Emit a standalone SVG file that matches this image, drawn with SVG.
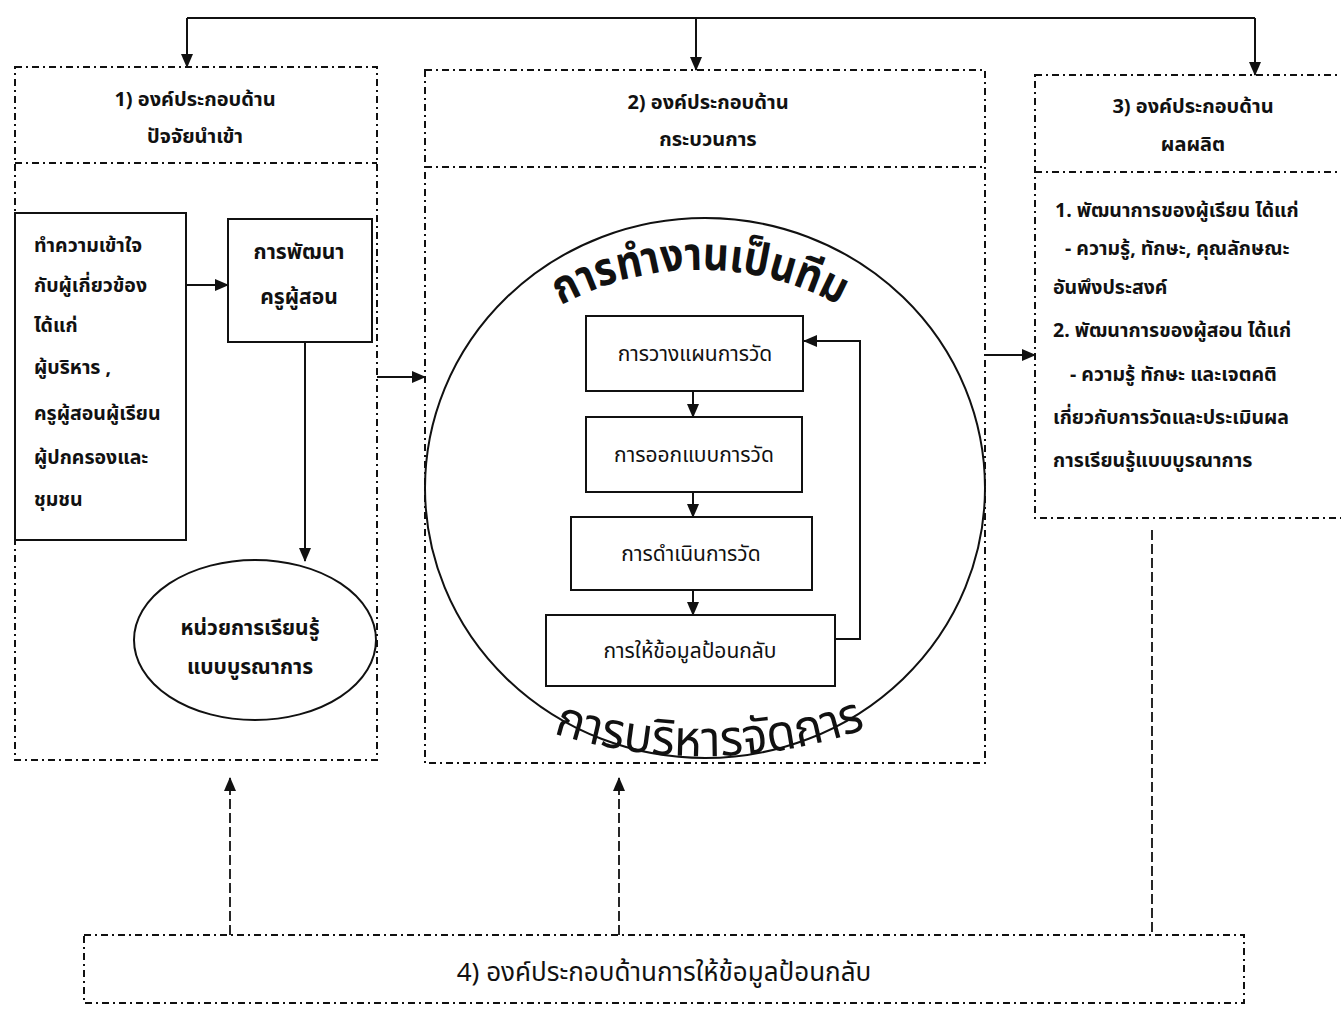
<svg xmlns="http://www.w3.org/2000/svg" width="1341" height="1009" viewBox="0 0 1341 1009">
<style>
.dd{fill:none;stroke:#111;stroke-width:2;stroke-dasharray:7 4 2 4}
.dl{fill:none;stroke:#111;stroke-width:1.8;stroke-dasharray:10 4}
.sl{fill:none;stroke:#111;stroke-width:2}
.bx{fill:#fff;stroke:#111;stroke-width:2}
.t{font-family:"Noto Sans Thai","Noto Sans","DejaVu Sans",sans-serif;fill:#111}
.h{font-size:20px;font-weight:bold}
.b{font-size:19.5px;font-weight:bold}
.e{font-size:21px;font-weight:bold}
.p{font-size:21px}
.big{font-size:46px;font-weight:bold}
</style>
<defs>
<marker id="ah" markerWidth="14" markerHeight="12" refX="13" refY="6" orient="auto" markerUnits="userSpaceOnUse">
<path d="M0,0 L14,6 L0,12 Z" fill="#111"/>
</marker>
<path id="arcTop" d="M 540 318 A 290 290 0 0 1 860 318"/>
<path id="arcBot" d="M 540 729 A 500 500 0 0 0 890 720"/>
</defs>
<rect width="1341" height="1009" fill="#fff"/>

<g id="box1">
<rect class="dd" x="15" y="67" width="362" height="693"/>
<line class="dd" x1="15" y1="163" x2="377" y2="163"/>
<text class="t h" x="195" y="106" text-anchor="middle">1) องค์ประกอบด้าน</text>
<text class="t h" x="195" y="143" text-anchor="middle">ปัจจัยนำเข้า</text>
</g>
<g id="understand">
<rect class="bx" x="15" y="213" width="171" height="327"/>
<text class="t b" x="34" y="252">ทำความเข้าใจ</text>
<text class="t b" x="34" y="292">กับผู้เกี่ยวข้อง</text>
<text class="t b" x="34" y="332">ได้แก่</text>
<text class="t b" x="34" y="374">ผู้บริหาร ,</text>
<text class="t b" x="34" y="420">ครูผู้สอนผู้เรียน</text>
<text class="t b" x="34" y="464">ผู้ปกครองและ</text>
<text class="t b" x="34" y="506">ชุมชน</text>
</g>
<g id="teacherdev">
<rect class="bx" x="228" y="219" width="144" height="123"/>
<text class="t e" x="299" y="259" text-anchor="middle">การพัฒนา</text>
<text class="t e" x="299" y="304" text-anchor="middle">ครูผู้สอน</text>
</g>
<g id="unit">
<ellipse class="bx" cx="255" cy="640" rx="121" ry="80"/>
<text class="t e" x="250" y="635" text-anchor="middle">หน่วยการเรียนรู้</text>
<text class="t e" x="250" y="674" text-anchor="middle">แบบบูรณาการ</text>
</g>

<g id="box2">
<rect class="dd" x="425" y="70" width="560" height="693"/>
<line class="dd" x1="425" y1="167" x2="985" y2="167"/>
<text class="t h" x="708" y="109" text-anchor="middle">2) องค์ประกอบด้าน</text>
<text class="t h" x="708" y="146" text-anchor="middle">กระบวนการ</text>
</g>
<g id="circle">
<ellipse fill="none" stroke="#111" stroke-width="2" cx="705" cy="488" rx="280" ry="270"/>
<text class="t big"><textPath href="#arcTop" startOffset="50%" text-anchor="middle" textLength="290" lengthAdjust="spacingAndGlyphs">การทำงานเป็นทีม</textPath></text>
<text class="t" font-size="50"><textPath href="#arcBot" startOffset="14" textLength="318" lengthAdjust="spacingAndGlyphs">การบริหารจัดการ</textPath></text>
</g>
<g id="plan">
<rect class="bx" x="586" y="316" width="217" height="75"/>
<text class="t p" x="695" y="361" text-anchor="middle">การวางแผนการวัด</text>
</g>
<g id="design">
<rect class="bx" x="586" y="417" width="216" height="75"/>
<text class="t p" x="694" y="462" text-anchor="middle">การออกแบบการวัด</text>
</g>
<g id="conduct">
<rect class="bx" x="571" y="517" width="241" height="73"/>
<text class="t p" x="691" y="561" text-anchor="middle">การดำเนินการวัด</text>
</g>
<g id="feedback">
<rect class="bx" x="546" y="615" width="289" height="71"/>
<text class="t p" x="690" y="658" text-anchor="middle">การให้ข้อมูลป้อนกลับ</text>
</g>

<g id="box3">
<rect class="dd" x="1035" y="75" width="320" height="443"/>
<line class="dd" x1="1035" y1="172" x2="1341" y2="172"/>
<text class="t h" x="1193" y="113" text-anchor="middle">3) องค์ประกอบด้าน</text>
<text class="t h" x="1193" y="151" text-anchor="middle">ผลผลิต</text>
<text class="t b" x="1055" y="217">1. พัฒนาการของผู้เรียน ได้แก่</text>
<text class="t b" x="1065" y="255">- ความรู้,  ทักษะ, คุณลักษณะ</text>
<text class="t b" x="1053" y="294">อันพึงประสงค์</text>
<text class="t b" x="1053" y="337">2. พัฒนาการของผู้สอน ได้แก่</text>
<text class="t b" x="1070" y="381">- ความรู้ ทักษะ และเจตคติ</text>
<text class="t b" x="1053" y="424">เกี่ยวกับการวัดและประเมินผล</text>
<text class="t b" x="1053" y="467">การเรียนรู้แบบบูรณาการ</text>
</g>

<g id="box4">
<rect class="dd" x="84" y="935" width="1160" height="68"/>
<text class="t" font-size="26" x="664" y="981" text-anchor="middle">4) องค์ประกอบด้านการให้ข้อมูลป้อนกลับ</text>
</g>

<g id="connectors">
<polyline class="sl" points="187,18 1255,18"/>
<line class="sl" x1="187" y1="18" x2="187" y2="67" marker-end="url(#ah)"/>
<line class="sl" x1="696" y1="18" x2="696" y2="70" marker-end="url(#ah)"/>
<line class="sl" x1="1255" y1="18" x2="1255" y2="75" marker-end="url(#ah)"/>
<line class="sl" x1="186" y1="285" x2="228" y2="285" marker-end="url(#ah)"/>
<line class="sl" x1="305" y1="342" x2="305" y2="561" marker-end="url(#ah)"/>
<line class="sl" x1="377" y1="377" x2="425" y2="377" marker-end="url(#ah)"/>
<line class="sl" x1="985" y1="355" x2="1035" y2="355" marker-end="url(#ah)"/>
<line class="sl" x1="693" y1="391" x2="693" y2="417" marker-end="url(#ah)"/>
<line class="sl" x1="693" y1="492" x2="693" y2="517" marker-end="url(#ah)"/>
<line class="sl" x1="693" y1="590" x2="693" y2="615" marker-end="url(#ah)"/>
<polyline class="sl" points="835,639 860,639 860,341 804,341" marker-end="url(#ah)"/>
<line class="dl" x1="230" y1="935" x2="230" y2="778" marker-end="url(#ah)"/>
<line class="dl" x1="619" y1="935" x2="619" y2="778" marker-end="url(#ah)"/>
<line class="dl" x1="1152" y1="530" x2="1152" y2="935"/>
</g>
</svg>
